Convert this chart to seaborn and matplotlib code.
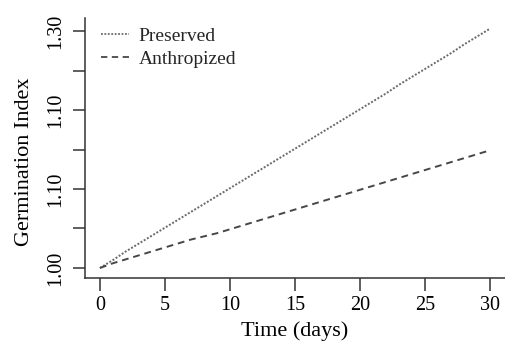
import numpy as np
import pandas as pd
import matplotlib
matplotlib.use('Agg')
import matplotlib.pyplot as plt
import seaborn as sns

sns.set_style('ticks')
plt.rcParams['font.family'] = ['Liberation Serif', 'DejaVu Serif']

# values
days = list(range(0, 31))
preserved = [1.000, 1.010, 1.021, 1.031, 1.041, 1.051, 1.061, 1.071, 1.081, 1.091,
             1.101, 1.111, 1.121, 1.131, 1.141, 1.151, 1.161, 1.171, 1.181, 1.191,
             1.201, 1.211, 1.221, 1.232, 1.242, 1.252, 1.262, 1.272, 1.283, 1.293,
             1.303]
anthropized = [1.000, 1.006, 1.011, 1.016, 1.021, 1.026, 1.031, 1.036, 1.040, 1.044,
               1.049, 1.054, 1.059, 1.064, 1.069, 1.074, 1.079, 1.084, 1.089, 1.094,
               1.099, 1.104, 1.109, 1.114, 1.119, 1.124, 1.129, 1.134, 1.139, 1.144,
               1.149]
series_names = ['Preserved', 'Anthropized']
y_ticks = [1.00, 1.05, 1.10, 1.15, 1.20, 1.25, 1.30]
y_tick_labels = ['1.00', '', '1.10', '', '1.10', '', '1.30']
x_ticks = [0, 5, 10, 15, 20, 25, 30]

df = pd.DataFrame({
    'day': days * 2,
    'gi': preserved + anthropized,
    'site': [series_names[0]] * len(days) + [series_names[1]] * len(days),
})

fig = plt.figure(figsize=(5.05, 3.5), dpi=100)
ax = fig.add_axes([85 / 505, 72 / 350, 420 / 505, 260 / 350])

palette = {'Preserved': '#6a6a6a', 'Anthropized': '#474747'}
dashes = {'Preserved': (1.0, 0.9), 'Anthropized': (3.5, 2.5)}
sns.lineplot(data=df, x='day', y='gi', hue='site', style='site',
             palette=palette, dashes=dashes, linewidth=1.4, ax=ax)

ax.set_xlim(-1.15, 31.15)
ax.set_ylim(0.9873, 1.3165)
ax.set_xticks(x_ticks)
ax.set_yticks(y_ticks)
ax.set_yticklabels(y_tick_labels, rotation=90, va='center')

for s in ['top', 'right']:
    ax.spines[s].set_visible(False)
for s in ['left', 'bottom']:
    ax.spines[s].set_linewidth(1.1)
    ax.spines[s].set_color('#333333')

ax.tick_params(axis='both', length=9, width=1.1, color='#333333',
               labelsize=14.5, labelcolor='black')
ax.tick_params(axis='x', pad=4)
ax.tick_params(axis='y', pad=5)

ax.set_xlabel('Time (days)', fontsize=16, color='black')
ax.set_ylabel('Germination Index', fontsize=16, color='black')
ax.yaxis.set_label_coords(-0.121, 0.446)
ax.xaxis.set_label_coords(0.5, -0.168)

leg = ax.legend(loc='upper left', frameon=False, fontsize=14,
                handlelength=1.45, handletextpad=0.5, labelspacing=0.3,
                borderaxespad=0.2, bbox_to_anchor=(0.01, 1.01))
for line in leg.get_lines():
    line.set_linewidth(1.3)

fig.savefig('out.png', dpi=100)
